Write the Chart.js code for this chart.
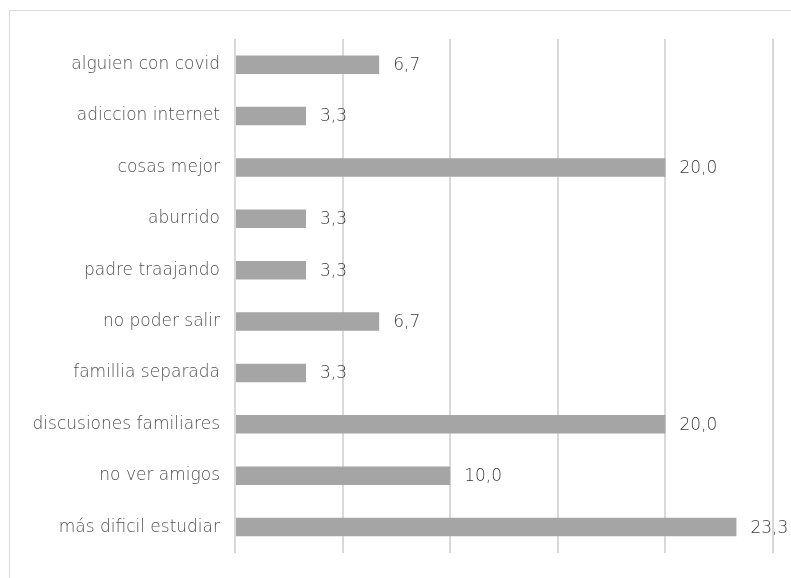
<!DOCTYPE html>
<html>
<head>
<meta charset="utf-8">
<script src="https://cdn.jsdelivr.net/npm/chart.js@4"></script>
<style>
  html, body { margin: 0; padding: 0; background: #fff; overflow: hidden; }
  #wrap { position: relative; width: 791px; height: 578px; }
  #frame { position: absolute; left: 9px; top: 10px; width: 900px; height: 700px; border: 1px solid #d9d9d9; box-sizing: border-box; }
  canvas { position: absolute; left: 0; top: 0; }
</style>
</head>
<body>
<div id="wrap">
  <div id="frame"></div>
  <canvas id="chart" width="791" height="578"></canvas>
</div>
<script>
const categories = [
  'alguien con covid',
  'adiccion internet',
  'cosas mejor',
  'aburrido',
  'padre traajando',
  'no poder salir',
  'famillia separada',
  'discusiones familiares',
  'no ver amigos',
  'más dificil estudiar'
];
const values = [6.7, 3.3, 20.0, 3.3, 3.3, 6.7, 3.3, 20.0, 10.0, 23.3];
const xTicks = [0, 5, 10, 15, 20, 25];

const fontFamily = "'DejaVu Sans', sans-serif";

// etiquetas de valor al final de cada barra
const valueLabels = {
  id: 'valueLabels',
  afterDatasetsDraw(chart) {
    const ctx = chart.ctx;
    const meta = chart.getDatasetMeta(0);
    ctx.save();
    ctx.font = '300 17px ' + fontFamily;
    ctx.fillStyle = '#3a3a3a';
    ctx.textAlign = 'left';
    ctx.textBaseline = 'middle';
    meta.data.forEach((bar, i) => {
      const txt = values[i].toFixed(1).replace('.', ',');
      ctx.fillText(txt, bar.x + 14, bar.y + 1);
    });
    ctx.restore();
  }
};

new Chart(document.getElementById('chart').getContext('2d'), {
  type: 'bar',
  data: {
    labels: categories,
    datasets: [{
      data: values,
      backgroundColor: '#a5a5a5',
      borderWidth: 0,
      barPercentage: 0.72,
      categoryPercentage: 0.5
    }]
  },
  options: {
    indexAxis: 'y',
    responsive: false,
    animation: false,
    layout: { padding: { top: 39, bottom: 21, right: 18, left: 0 } },
    plugins: {
      legend: { display: false },
      tooltip: { enabled: false }
    },
    scales: {
      x: {
        min: xTicks[0],
        max: xTicks[xTicks.length - 1],
        afterBuildTicks(scale) {
          scale.ticks = xTicks.map(v => ({ value: v }));
        },
        afterFit(scale) { scale.height = 0; },
        ticks: { display: false },
        grid: { color: '#d9d9d9', lineWidth: 2, drawTicks: false },
        border: { display: false }
      },
      y: {
        afterFit(scale) { scale.width = 235; },
        grid: { display: false, drawTicks: false },
        border: { display: false },
        ticks: {
          padding: 15,
          color: '#4f4f4f',
          font: { size: 17, weight: '300', family: fontFamily }
        }
      }
    }
  },
  plugins: [valueLabels]
});
</script>
</body>
</html>
